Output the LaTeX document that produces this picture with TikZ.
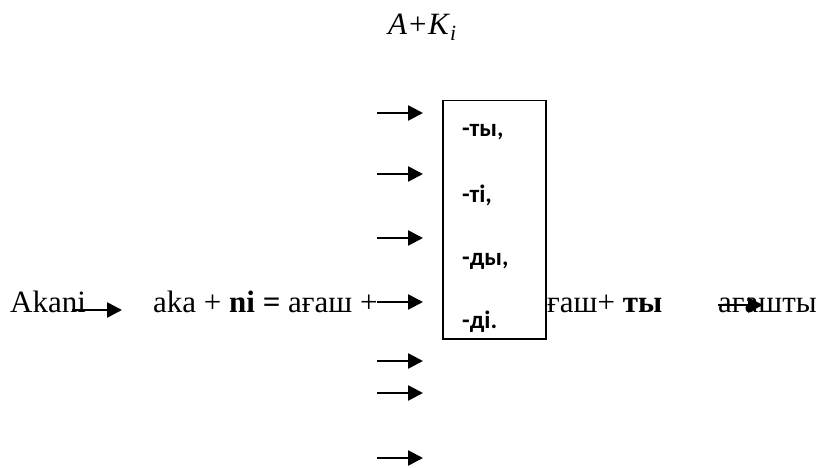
\documentclass[tikz,border=0pt]{standalone}
\usepackage{fontspec}
\setmainfont{Liberation Serif}
\newfontfamily\suffont{Carlito}
\usetikzlibrary{arrows.meta,positioning}

\begin{document}
\begin{tikzpicture}[x=1pt,y=-1pt,
  arr/.style={line width=2.6pt, -{Triangle[length=15pt,width=15pt]}},
  word/.style={inner sep=0pt, anchor=base west, font=\fontsize{31}{33}\selectfont},
  suffix/.style={inner sep=0pt, anchor=base west, font=\suffont\bfseries\fontsize{25}{27}\selectfont}]
  \useasboundingbox (0,0) rectangle (830,468);

  % Formula on top
  \node[word] (formula) at (388,35) {\textit{A+K}\textsubscript{\textit{i}}};

  % Suffix box
  \node[draw, line width=1.5pt, minimum width=103pt, minimum height=238pt, anchor=north west] (sufbox) at (442,100) {};
  \foreach \y/\suf [count=\i] in {137/{-ты,}, 202/{-ті,}, 265/{-ды,}, 328/{-ді.}} {
    \node[suffix] (suf\i) at (462,\y) {\suf};
  }

  % Column of arrows
  \foreach \y in {113,174,238,302,361,393,458} {
    \draw[arr] (377,\y) -- (423,\y);
  }

  % Main row
  \node[word] (akani) at (10,312) {Akani};
  \draw[arr] (72,310) -- (122,310);
  \node[word] (rule) at (153,312) {aka + \textbf{ni =} ағаш +};
  \node[word] (stem) at (547,312) {ғаш+ \textbf{ты}};
  \node[word] (result) at (718,312) {ағашты};
  \draw[arr] (718,305) -- (763,305);
\end{tikzpicture}
\end{document}
